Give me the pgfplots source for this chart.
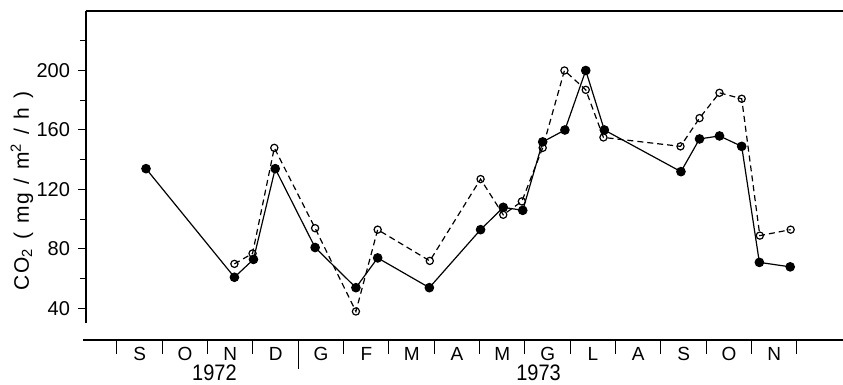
\documentclass[border=0pt]{standalone}
\usepackage{fontspec}
\setmainfont{Liberation Sans}
\usepackage{graphicx}
\usepackage{pgfplots}
\usepackage{pgfplotstable}
\pgfplotsset{compat=1.18}

% x is time in months, counted from 1 September 1972
\pgfplotstableread{
x y
0.64 134
2.59 61
3.01 73
3.49 134
4.37 81
5.27 54
5.75 74
6.89 54
8.02 93
8.52 108
8.95 106
9.39 152
9.88 160
10.34 200
10.75 160
12.44 132
12.85 154
13.29 156
13.78 149
14.17 71
14.85 68
}\filledseries

\pgfplotstableread{
x y
2.59 70
2.99 77
3.47 148
4.37 94
5.27 38
5.75 93
6.90 72
8.02 127
8.52 103
8.93 112
9.39 148
9.87 200
10.34 187
10.73 155
12.43 149
12.85 168
13.29 185
13.78 181
14.18 89
14.86 93
}\openseries

\newcommand{\gap}{\hspace{0.42em}}

\begin{document}
\begin{tikzpicture}
\path[use as bounding box] (0,0) rectangle (421.5pt,-192.5pt);

% CO2 flux panel
\begin{axis}[
  at={(43pt,-5.5pt)}, anchor=north west,
  x=22.6667pt, y=0.74375pt,
  xmin=-0.684, xmax=16.016,
  ymin=30, ymax=240,
  axis x line=top, axis y line=left,
  axis line style={-, line width=1pt},
  xtick=\empty,
  ytick={40,80,...,200},
  minor ytick={60,100,...,220},
  tick align=outside,
  major tick length=4pt, minor tick length=3pt,
  tick style={line width=0.5pt, black},
  /pgf/number format/assume math mode=true,
  yticklabel style={font=\fontsize{10}{12}\selectfont, xshift=-0.5pt},
  clip=false,
]
\addplot[black, line width=0.6pt, mark=*, mark size=2.1pt,
  mark options={solid, fill=black}] table[x=x, y=y] {\filledseries};
\addplot[black, line width=0.6pt, dash pattern=on 3pt off 2pt,
  mark=o, mark size=1.8pt,
  mark options={solid, fill=white, line width=0.6pt}] table[x=x, y=y] {\openseries};
\node[rotate=90, anchor=center, font=\fontsize{10.5}{12}\selectfont\addfontfeature{LetterSpace=6}]
  at (axis cs:-2.096,119)
  {CO\textsubscript{2}\gap(\gap mg\gap/\gap m\textsuperscript{2}\gap/\gap h\gap)};
\end{axis}

% calendar axis
\begin{axis}[
  at={(41.5pt,-170pt)}, anchor=south west,
  x=22.6667pt, y=1pt,
  xmin=-0.75, xmax=16.016,
  ymin=0, ymax=1,
  axis x line=bottom, axis y line=none,
  axis line style={-, line width=0.9pt},
  xtick={4}, xticklabels={},
  minor xtick={0,1,2,3,5,6,7,8,9,10,11,12,13,14,15},
  tick align=outside,
  major tick length=14.5pt, minor tick length=7pt,
  tick style={line width=0.5pt, black},
  extra x ticks={0.5,1.5,...,14.5},
  extra x tick labels={S,O,N,D,G,F,M,A,M,G,L,A,S,O,N},
  extra x tick style={major tick length=0pt,
    xticklabel style={font=\fontsize{9.5}{11}\selectfont}},
  clip=false,
]
\node[font=\fontsize{10}{12}\selectfont] at (axis cs:2.15,0) [yshift=-16.6pt] {\scalebox{1}[1.12]{1972}};
\node[font=\fontsize{10}{12}\selectfont] at (axis cs:9.3,0) [yshift=-16.6pt] {\scalebox{1}[1.12]{1973}};
\end{axis}
\end{tikzpicture}
\end{document}
